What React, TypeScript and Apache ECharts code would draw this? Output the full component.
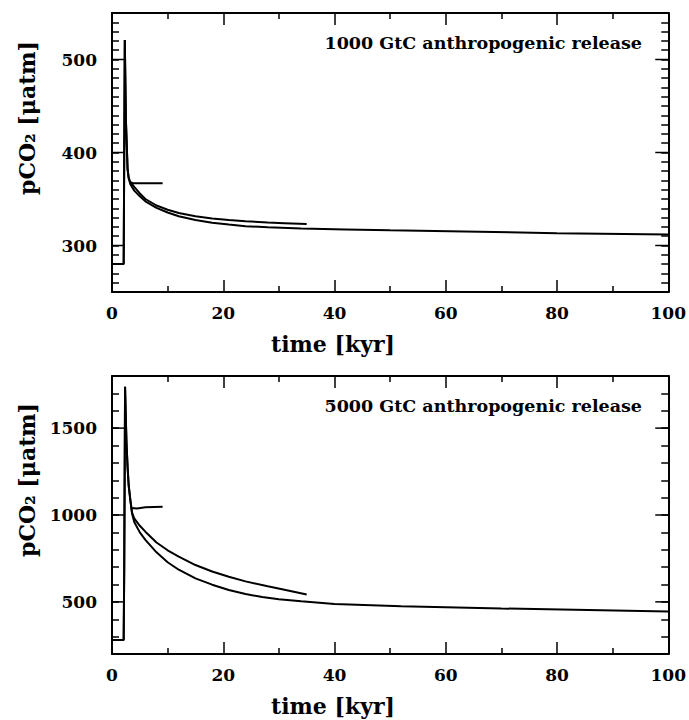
import React, { useEffect, useRef } from "react";
import * as echarts from "echarts";

// ---- Top panel: 1000 GtC release ----
const topLongT = [0, 2.1, 2.2, 2.3, 2.5, 2.8, 3.0, 3.3, 3.6, 4, 5, 6, 8, 10, 12, 15, 18, 21, 24, 28, 34, 42, 50, 66, 80, 100];
const topLongV = [280, 280, 400, 521, 435, 382, 372, 366, 363, 359, 353, 347.5, 340.5, 335.5, 331.5, 327.5, 324.4, 322.5, 320.8, 319.5, 318.3, 317.3, 316.3, 314.7, 313.3, 311.8];
const topMidT = [0, 2.1, 2.2, 2.3, 2.5, 2.8, 3.0, 3.3, 3.6, 4, 5, 6, 8, 10, 12, 15, 18, 21, 24, 28, 31, 35];
const topMidV = [280, 280, 400, 521, 435, 382, 373, 368, 366, 363, 356, 350, 343, 338.5, 335, 331.5, 329, 327.3, 326, 324.8, 324, 323];
const topShortT = [3.3, 3.8, 9.1];
const topShortV = [368, 367, 367];

// ---- Bottom panel: 5000 GtC release ----
const botLongT = [0, 2.1, 2.2, 2.35, 2.45, 2.6, 2.8, 3.0, 3.3, 3.6, 4, 5, 6, 8, 10, 12, 15, 18, 21, 24, 27, 30, 34, 40, 52, 70, 88, 100];
const botLongV = [280, 280, 700, 1738, 1600, 1420, 1276, 1170, 1085, 1009, 960, 900, 857, 785, 728, 685, 635, 599, 568, 545, 528, 515, 503, 488, 475, 462, 452, 445];
const botMidT = [0, 2.1, 2.2, 2.35, 2.45, 2.6, 2.8, 3.0, 3.3, 3.6, 4, 5, 6, 8, 10, 12, 15, 18, 21, 24, 28, 31, 35];
const botMidV = [280, 280, 700, 1738, 1600, 1420, 1276, 1170, 1085, 1015, 980, 938, 904, 842, 797, 761, 712, 675, 645, 618, 590, 570, 542];
const botShortT = [3.45, 4.5, 6, 9.1];
const botShortV = [1040, 1038, 1044, 1048];

// ---- Tick labels ----
const topYMajors = [300, 400, 500];
const botYMajors = [500, 1000, 1500];

const zip = (t: number[], v: number[]) => t.map((x, i) => [x, v[i]]);

const FONT = "DejaVu Serif";
const black = "#000";
const lineSt = { color: black, width: 2 };
const tickSt = { color: black, width: 1.5 };
const labelFont = { fontFamily: FONT, fontWeight: "bold" as const, fontSize: 17, color: black };

function xAxes(gridIndex: number) {
  const base = {
    type: "value" as const,
    gridIndex,
    min: 0,
    max: 100,
    interval: 20,
    splitLine: { show: false },
    minorSplitLine: { show: false },
    axisLine: { show: true, onZero: false, lineStyle: lineSt },
    axisTick: { show: true, inside: true, length: 12, lineStyle: tickSt },
    minorTick: { show: true, splitNumber: 2, length: 6, lineStyle: tickSt },
  };
  return [
    { ...base, position: "bottom", axisLabel: { show: true, margin: 12, ...labelFont } },
    { ...base, position: "top", axisLabel: { show: false } },
  ];
}

function yAxes(gridIndex: number, min: number, max: number, step: number, majors: number[]) {
  const base = {
    type: "value" as const,
    gridIndex,
    min,
    max,
    interval: step,
    splitLine: { show: false },
    axisLine: { show: true, onZero: false, lineStyle: lineSt },
    axisTick: { show: true, inside: true, length: 7, lineStyle: tickSt },
  };
  return [
    {
      ...base,
      position: "left",
      axisLabel: {
        show: true,
        margin: 15,
        customValues: majors,
        formatter: (v: number) => (majors.indexOf(v) >= 0 ? String(v) : ""),
        ...labelFont,
      },
    },
    { ...base, position: "right", axisLabel: { show: false } },
  ];
}

function line(data: number[][], xi: number, yi: number) {
  return {
    type: "line" as const,
    xAxisIndex: xi,
    yAxisIndex: yi,
    data,
    showSymbol: false,
    symbol: "none",
    silent: true,
    lineStyle: { color: black, width: 2 },
  };
}

// long (major) y ticks on both sides, placed through the y scale
function majorTicks(xi: number, yi: number, majors: number[], len: number) {
  return {
    type: "custom" as const,
    xAxisIndex: xi,
    yAxisIndex: yi,
    silent: true,
    clip: false,
    data: majors.map((v) => [0, v]),
    encode: { x: 0, y: 1 },
    renderItem: (params: any, api: any) => {
      const y = api.coord([api.value(0), api.value(1)])[1];
      const cs = params.coordSys;
      const l = cs.x;
      const r = cs.x + cs.width;
      return {
        type: "group",
        children: [
          { type: "line", shape: { x1: l, y1: y, x2: l + len, y2: y }, style: { stroke: black, lineWidth: 1.5 } },
          { type: "line", shape: { x1: r - len, y1: y, x2: r, y2: y }, style: { stroke: black, lineWidth: 1.5 } },
        ],
      };
    },
  };
}

const textStyle = (size: number) => ({ fontFamily: FONT, fontWeight: "bold", fontSize: size, fill: black });

export default function App() {
  const ref = useRef<HTMLDivElement>(null);
  useEffect(() => {
    if (!ref.current) return;
    const chart = echarts.init(ref.current, undefined, { renderer: "svg" });
    chart.setOption({
      animation: false,
      backgroundColor: "#fff",
      grid: [
        { left: 112, top: 13, width: 558, height: 279 },
        { left: 112, top: 376, width: 558, height: 278 },
      ],
      xAxis: [...xAxes(0), ...xAxes(1)],
      yAxis: [...yAxes(0, 250, 550, 10, topYMajors), ...yAxes(1, 200, 1800, 100, botYMajors)],
      series: [
        line(zip(topLongT, topLongV), 0, 0),
        line(zip(topMidT, topMidV), 0, 0),
        line(zip(topShortT, topShortV), 0, 0),
        line(zip(botLongT, botLongV), 2, 2),
        line(zip(botMidT, botMidV), 2, 2),
        line(zip(botShortT, botShortV), 2, 2),
        majorTicks(0, 0, topYMajors, 13),
        majorTicks(2, 2, botYMajors, 13),
      ],
      graphic: [
        { type: "text", x: 642, y: 43, style: { ...textStyle(17.5), text: "1000 GtC anthropogenic release", align: "right", verticalAlign: "middle" } },
        { type: "text", x: 642, y: 406, style: { ...textStyle(17.5), text: "5000 GtC anthropogenic release", align: "right", verticalAlign: "middle" } },
        { type: "text", x: 333, y: 344, style: { ...textStyle(22), text: "time [kyr]", align: "center", verticalAlign: "middle" } },
        { type: "text", x: 333, y: 706, style: { ...textStyle(22), text: "time [kyr]", align: "center", verticalAlign: "middle" } },
        { type: "text", x: 27, y: 118, rotation: Math.PI / 2, style: { ...textStyle(22), text: "pCO₂ [μatm]", align: "center", verticalAlign: "middle" } },
        { type: "text", x: 27, y: 480, rotation: Math.PI / 2, style: { ...textStyle(22), text: "pCO₂ [μatm]", align: "center", verticalAlign: "middle" } },
      ],
    });
    return () => chart.dispose();
  }, []);
  return <div ref={ref} style={{ position: "absolute", left: 0, top: 0, width: 689, height: 720 }} />;
}
